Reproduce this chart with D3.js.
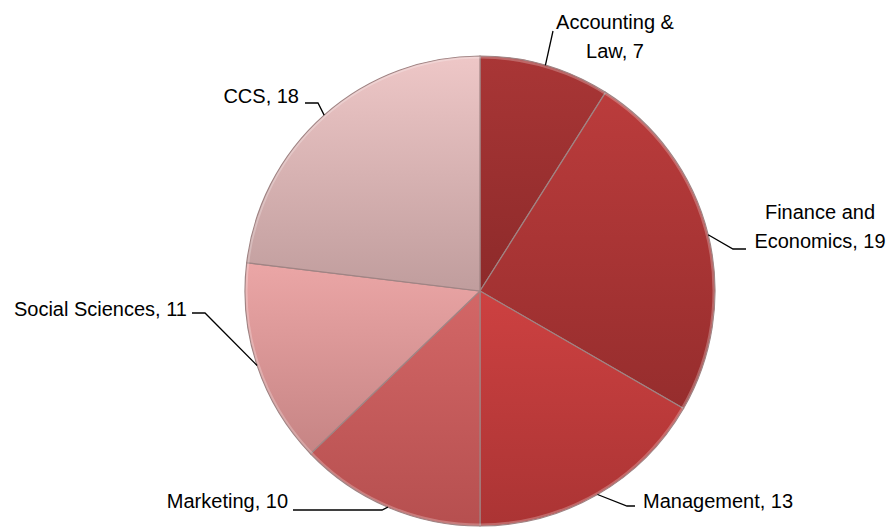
<!DOCTYPE html>
<html>
<head>
<meta charset="utf-8">
<script src="https://cdn.jsdelivr.net/npm/d3@7"></script>
<style>
  html, body { margin: 0; padding: 0; background: #ffffff; }
  svg { display: block; }
  text { font-family: "Liberation Sans", Arial, sans-serif; font-size: 20px; fill: #000; }
</style>
</head>
<body>
<svg id="chart" width="892" height="527"></svg>
<script>
// ---- data ----
const categories = ["Accounting & Law", "Finance and Economics", "Management", "Marketing", "Social Sciences", "CCS"];
const values = [7, 19, 13, 10, 11, 18];
// label lines (wrapped as in the reference)
const labelLines = [
  ["Accounting &", "Law, 7"],
  ["Finance and", "Economics, 19"],
  ["Management, 13"],
  ["Marketing, 10"],
  ["Social Sciences, 11"],
  ["CCS, 18"]
];
// ---- styles ----
const colorsTop = ["#a93636", "#bb3c3c", "#cd4141", "#d36767", "#eba6a6", "#eec7c7"];
const colorsBottom = ["#8d2a2a", "#962d2d", "#ab3434", "#b64f4f", "#c68484", "#c09d9d"];

const W = 892, H = 527;
const cx = 480, cy = 291, R = 235;

const svg = d3.select("#chart");
const defs = svg.append("defs");

colorsTop.forEach((c, i) => {
  const g = defs.append("linearGradient")
    .attr("id", "grad" + i)
    .attr("x1", 0).attr("y1", 0).attr("x2", 0).attr("y2", 1);
  g.append("stop").attr("offset", "0%").attr("stop-color", c);
  g.append("stop").attr("offset", "100%").attr("stop-color", colorsBottom[i]);
});

const pie = d3.pie().sort(null).value(d => d)(values);
const arc = d3.arc().innerRadius(0).outerRadius(R);

const g = svg.append("g").attr("transform", `translate(${cx},${cy})`);

g.selectAll("path.slice")
  .data(pie)
  .join("path")
  .attr("class", "slice")
  .attr("d", arc)
  .attr("fill", (d, i) => `url(#grad${i})`)
  .attr("stroke", "#a08484")
  .attr("stroke-width", 1.2);

// rim highlight
g.append("circle").attr("r", R - 1.5).attr("fill", "none")
  .attr("stroke", "rgba(255,255,255,0.25)").attr("stroke-width", 2);

// ---- labels & leader lines ----
const layout = [
  { elbow: [553, 31], end: null, tx: 615, ty: 29, anchor: "middle" },
  { elbow: [733, 249], end: [746, 249], tx: 820, ty: 248, anchor: "middle", first: 219 },
  { elbow: [627, 506], end: [635, 506], tx: 643, ty: 508, anchor: "start" },
  { elbow: [382, 510], end: [293, 510], tx: 288, ty: 508, anchor: "end" },
  { elbow: [205, 313], end: [192, 313], tx: 187, ty: 316, anchor: "end" },
  { elbow: [318, 103], end: [305, 103], tx: 299, ty: 103, anchor: "end" }
];

pie.forEach((d, i) => {
  const L = layout[i];
  const mid = (d.startAngle + d.endAngle) / 2;
  const ex = cx + R * Math.sin(mid);
  const ey = cy - R * Math.cos(mid);
  const pts = [[ex, ey], L.elbow];
  if (L.end) pts.push(L.end);
  svg.append("path")
    .attr("d", d3.line()(pts))
    .attr("fill", "none")
    .attr("stroke", "#000")
    .attr("stroke-width", 1.3);

  const y0 = labelLines[i].length > 1 ? (L.first || L.ty) : L.ty;
  const t = svg.append("text")
    .attr("x", L.tx)
    .attr("y", y0)
    .attr("text-anchor", L.anchor);
  labelLines[i].forEach((line, j) => {
    t.append("tspan").attr("x", L.tx).attr("dy", j === 0 ? 0 : 29).text(line);
  });
});
</script>
</body>
</html>
